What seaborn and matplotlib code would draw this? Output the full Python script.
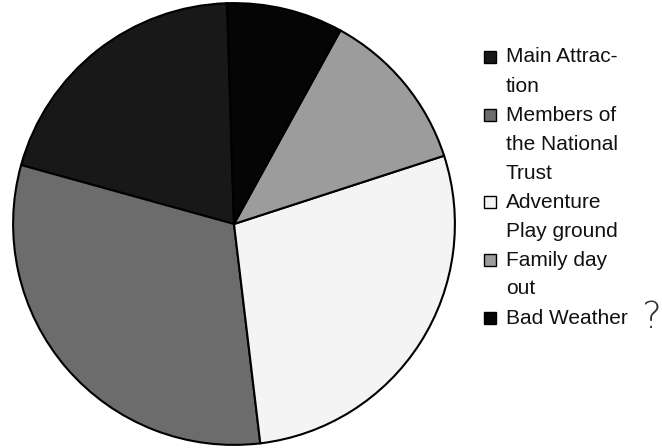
import matplotlib
matplotlib.use("Agg")
import matplotlib.pyplot as plt
import seaborn as sns
from matplotlib.patches import Rectangle

sns.set_theme(style="white")
plt.rcParams['font.family'] = ['Liberation Sans', 'DejaVu Sans']

categories = ["Main Attrac-\ntion", "Members of\nthe National\nTrust",
              "Adventure\nPlay ground", "Family day\nout", "Bad Weather"]
values = [20.2, 31.2, 28.1, 12.0, 8.5]
colors = ["#181818", "#6c6c6c", "#f4f4f4", "#9c9c9c", "#050505"]

W, H = 662, 448
fig = plt.figure(figsize=(W / 100, H / 100), dpi=100)
fig.patch.set_facecolor("white")

cx, cy, r = 234, 224, 222
ax = fig.add_axes([(cx - r) / W, (H - cy - r) / H, 2 * r / W, 2 * r / H])
wedges, _ = ax.pie(values, colors=colors, startangle=91.8, counterclock=True,
                   wedgeprops=dict(edgecolor="black", linewidth=1.5))
ax.set_xlim(-1.005, 1.005)
ax.set_ylim(-1.005, 1.005)
ax.set_aspect("auto")
ax.axis("off")

# legend drawn manually: square beside the first line of each label
y = 57
step = 29
for lab, col in zip(categories, colors):
    lines = lab.split("\n")
    fig.patches.append(Rectangle((484 / W, 1 - (y + 6) / H), 12 / W, 12 / H,
                                 transform=fig.transFigure, facecolor=col,
                                 edgecolor="black", linewidth=1.0))
    for k, ln in enumerate(lines):
        fig.text(506 / W, 1 - (y + k * step) / H, ln, fontsize=15,
                 ha="left", va="center", color="#111111")
    y += step * len(lines)

fig.text(651 / W, 1 - 317 / H, "?", fontsize=27, ha="center", va="center",
         color="#333333", fontweight="light", family=["DejaVu Sans"])

fig.savefig("out.png", dpi=100, facecolor="white")
